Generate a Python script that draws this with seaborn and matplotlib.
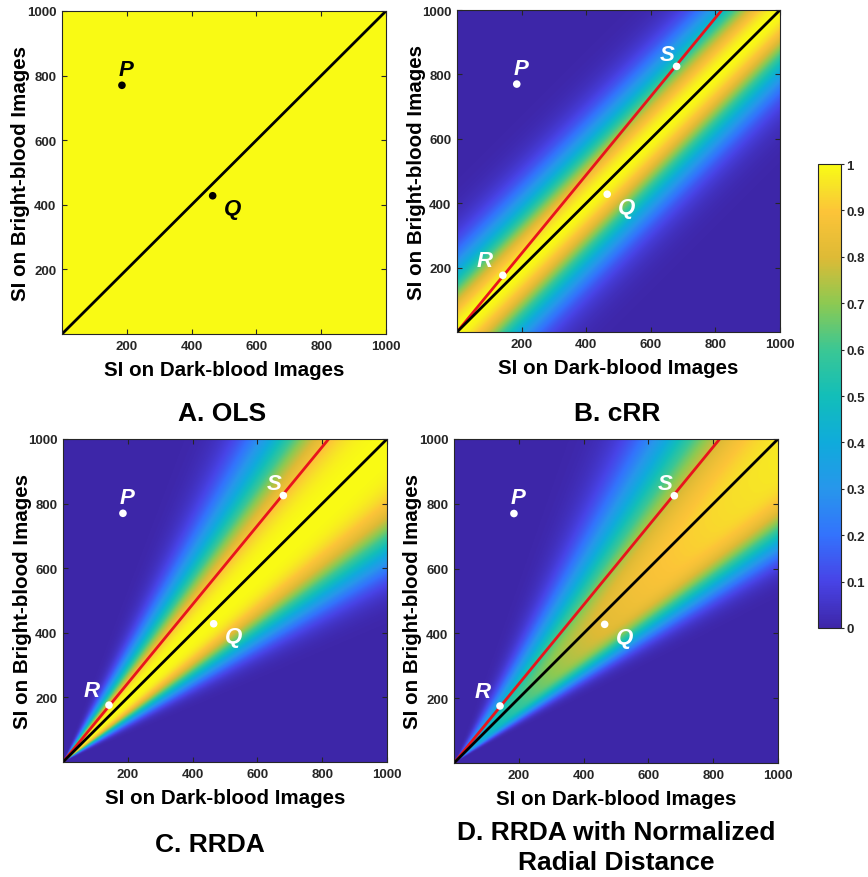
import numpy as np
import pandas as pd
import matplotlib
matplotlib.use("Agg")
import matplotlib.pyplot as plt
import seaborn as sns
from matplotlib.colors import LinearSegmentedColormap

# ---------------- data ----------------
panel_titles = ["A. OLS", "B. cRR", "C. RRDA", "D. RRDA with Normalized\nRadial Distance"]
point_names = ["P", "Q", "R", "S"]
point_x = [185, 465, 142, 680]
point_y = [770, 428, 176, 825]
points_in_panel = [["P", "Q"], ["P", "Q", "R", "S"], ["P", "Q", "R", "S"], ["P", "Q", "R", "S"]]
identity_x = [0, 1000]
identity_y = [0, 1000]
fit_x = [0, 820]
fit_y = [0, 1000]
axis_ticks = [200, 400, 600, 800, 1000]
cbar_ticks = [0, 0.1, 0.2, 0.3, 0.4, 0.5, 0.6, 0.7, 0.8, 0.9, 1]
cbar_labels = ["0", "0.1", "0.2", "0.3", "0.4", "0.5", "0.6", "0.7", "0.8", "0.9", "1"]
x_label = "SI on Dark-blood Images"
y_label = "SI on Bright-blood Images"

# weight-map parameters
crr_sigma = 100.0                  # perpendicular-distance scale (cRR)
rrda_center_deg = [44.5, 42.5]     # C, D
rrda_upper_width = [13.2, 14.9]
rrda_lower_width = [12.0, 8.7]
rrda_upper_shape = [2.7, 2.7]
rrda_lower_shape = [3.0, 3.0]
rrda_radial_depth = [0.0, 0.75]    # D grows with radial distance
rrda_radial_scale = [1.0, 450.0]

# parula-like colormap anchors
parula_pos = [0.0, 0.1, 0.2, 0.3, 0.4, 0.5, 0.6, 0.7, 0.8, 0.9, 0.95, 1.0]
parula_rgb = [(0.2422, 0.1504, 0.6603), (0.2810, 0.2650, 0.9050), (0.2000, 0.4500, 0.9900),
              (0.1540, 0.5902, 0.9218), (0.0600, 0.6700, 0.8600), (0.0704, 0.7457, 0.7258),
              (0.2300, 0.7800, 0.5800), (0.5500, 0.7900, 0.3200), (0.8700, 0.7300, 0.2100),
              (0.9900, 0.7700, 0.2200), (0.9700, 0.8800, 0.1600), (0.9769, 0.9839, 0.0805)]
parula = LinearSegmentedColormap.from_list("parula", list(zip(parula_pos, parula_rgb)))

# ---------------- fields ----------------
n = 500
gx = np.linspace(0, 1000, n)
X, Y = np.meshgrid(gx, gx)
field_ols = np.ones_like(X)
dperp = np.abs(Y - X) / np.sqrt(2)
field_crr = np.exp(-0.5 * (dperp / crr_sigma) ** 2)
theta = np.degrees(np.arctan2(Y, X))
R = np.hypot(X, Y)


def rrda(i):
    d = theta - rrda_center_deg[i]
    w = np.where(d > 0, rrda_upper_width[i], rrda_lower_width[i])
    p = np.where(d > 0, rrda_upper_shape[i], rrda_lower_shape[i])
    f = np.exp(-np.abs(d / w) ** p)
    return f * (1 - rrda_radial_depth[i] * np.exp(-R / rrda_radial_scale[i]))


fields = [field_ols, field_crr, rrda(0), rrda(1)]

# ---------------- figure ----------------
sns.set_style("ticks")
plt.rcParams["font.family"] = ["Liberation Sans", "DejaVu Sans"]
plt.rcParams["font.weight"] = "bold"

fig = plt.figure(figsize=(8.68, 8.78), dpi=100)
W, H = 868, 878
boxes = [(62, 12, 324, 323), (457, 11, 323, 322), (63, 440, 324, 323), (454, 440, 324, 324)]
title_pos = [(222, 414), (617, 414), (210, 845), (616, 848)]
label_off = {"P": (12, 48), "Q": (60, -40), "R": (-55, 46), "S": (-28, 38)}
dark = "#262626"

pts = pd.DataFrame({"name": point_names, "x": point_x, "y": point_y})
ln_id = pd.DataFrame({"x": identity_x, "y": identity_y})
ln_fit = pd.DataFrame({"x": fit_x, "y": fit_y})

im = None
for i, (l, t, w, h) in enumerate(boxes):
    ax = fig.add_axes([l / W, 1 - (t + h) / H, w / W, h / H])
    im = ax.imshow(fields[i], origin="lower", extent=[0, 1000, 0, 1000], cmap=parula,
                   vmin=0, vmax=1, interpolation="bilinear", aspect="auto")
    if i > 0:
        sns.lineplot(data=ln_fit, x="x", y="y", color="#e8141c", lw=2.0, ax=ax)
    sns.lineplot(data=ln_id, x="x", y="y", color="black", lw=2.0, ax=ax)
    mcol = "black" if i == 0 else "white"
    sub = pts[pts["name"].isin(points_in_panel[i])]
    sns.scatterplot(data=sub, x="x", y="y", color=mcol, s=30, edgecolor="none", ax=ax, zorder=5)
    for _, r in sub.iterrows():
        dx, dy = label_off[r["name"]]
        ax.text(r["x"] + dx, r["y"] + dy, r["name"], color=mcol, fontsize=16,
                fontstyle="italic", fontweight="bold", ha="center", va="center")
    ax.set_xlim(0, 1000)
    ax.set_ylim(0, 1000)
    ax.set_xticks(axis_ticks)
    ax.set_yticks(axis_ticks)
    ax.tick_params(direction="in", length=3.5, width=0.8, top=True, right=True,
                   labelsize=9.5, colors=dark, pad=4)
    for lab in ax.get_xticklabels() + ax.get_yticklabels():
        lab.set_fontweight("bold")
    for sp in ax.spines.values():
        sp.set_color(dark)
        sp.set_linewidth(0.8)
    ax.set_xlabel(x_label, fontsize=14.8, fontweight="bold", color="black")
    ax.set_ylabel(y_label, fontsize=14.8, fontweight="bold", color="black")
    ax.xaxis.label.set_va("center")
    ax.yaxis.label.set_va("center")
    ax.xaxis.set_label_coords(0.5, -36 / h)
    ax.yaxis.set_label_coords(-41 / w, 0.5)
    tx, ty = title_pos[i]
    fig.text(tx / W, 1 - ty / H, panel_titles[i], fontsize=19, fontweight="bold",
             color="black", ha="center", va="center", linespacing=1.35)

cax = fig.add_axes([818 / W, 1 - 629 / H, 23 / W, 464 / H])
cb = fig.colorbar(im, cax=cax, ticks=cbar_ticks)
cb.ax.set_yticklabels(cbar_labels)
cb.ax.tick_params(direction="out", length=2.5, width=0.8, labelsize=9.5, colors=dark, pad=1.5)
for lab in cb.ax.get_yticklabels():
    lab.set_fontweight("bold")
cb.outline.set_edgecolor(dark)
cb.outline.set_linewidth(0.8)

fig.savefig("out.png", dpi=100)
